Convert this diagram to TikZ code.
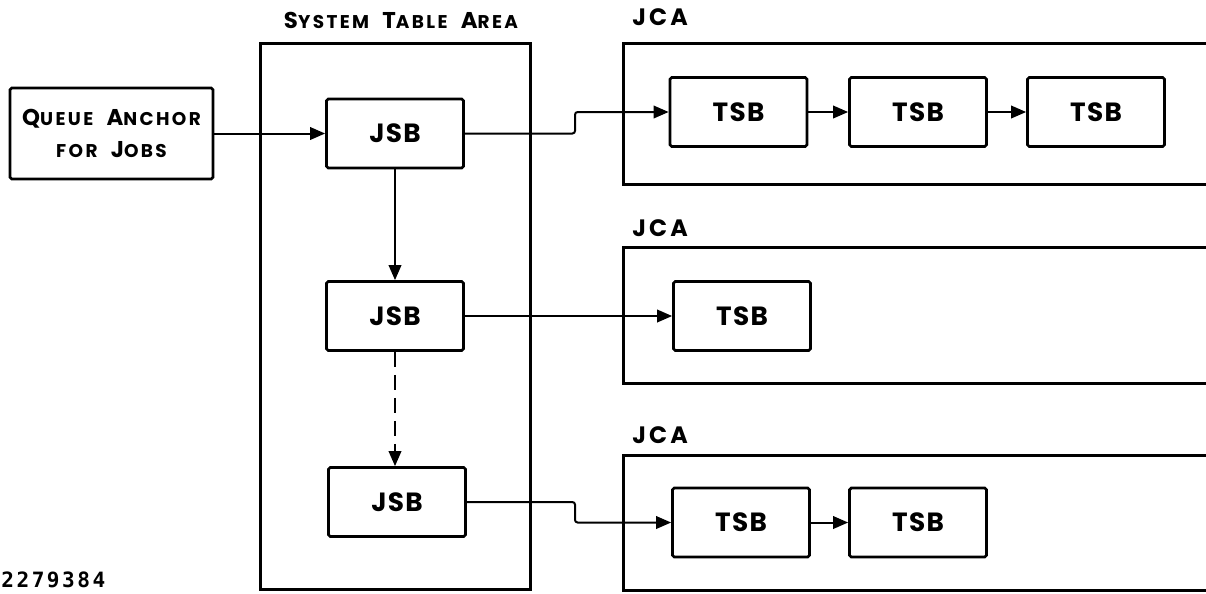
\documentclass[tikz,border=0pt]{standalone}
\usepackage{fontspec}
\setmainfont{Poppins}
\newfontfamily\labelfont{Poppins}[LetterSpace=13, WordSpace=2.2]
\newfontfamily\boxfont{Poppins}[LetterSpace=5]
\newfontfamily\numfont{DejaVu Sans Mono}[LetterSpace=12]
\usetikzlibrary{arrows.meta, positioning}

\newcommand{\capword}[2]{{\fontsize{13}{13}\selectfont #1}{\fontsize{10.5}{13}\selectfont #2}}

\tikzset{
  block/.style={draw, line width=0.55mm, rounded corners=1pt, minimum width=2.74cm,
    minimum height=1.38cm, inner sep=0pt, font=\boxfont\bfseries\fontsize{15}{15}\selectfont},
  area/.style={draw, line width=0.6mm},
  link/.style={line width=0.4mm, rounded corners=1.5pt, -{Triangle[length=3mm, width=2.5mm]}},
  title/.style={anchor=west, inner sep=0pt, font=\labelfont\bfseries},
}

\begin{document}
\begin{tikzpicture}[x=0.02cm, y=-0.02cm]
  \useasboundingbox (0,0) rectangle (1206,593);

  % system table area
  \node[area, minimum width=5.42cm, minimum height=10.94cm] (sta) at (395.5,316.5) {};
  \node[title, anchor=center] (staLabel) at (401,20) {\capword{S}{YSTEM} \capword{T}{ABLE} \capword{A}{REA}};

  % job control areas
  \draw[area] (1212,43)  -- (623,43)  -- (623,184) -- (1212,184);
  \draw[area] (1212,247) -- (623,247) -- (623,383) -- (1212,383);
  \draw[area] (1212,455) -- (623,455) -- (623,590) -- (1212,590);
  \node[title] (jcaA) at (632,17)  {\fontsize{13.5}{13.5}\selectfont JCA};
  \node[title] (jcaB) at (632,228) {\fontsize{13.5}{13.5}\selectfont JCA};
  \node[title] (jcaC) at (632,435) {\fontsize{13.5}{13.5}\selectfont JCA};

  % queue anchor
  \node[block, minimum width=4.06cm, minimum height=1.82cm, align=center,
    font=\labelfont\bfseries, text depth=0pt] (queue) at (111.5,133.5)
    {\capword{Q}{UEUE} \capword{A}{NCHOR}\\[6pt]\capword{}{FOR} \capword{J}{OBS}};

  % job summary blocks
  \node[block] (jsbA) at (395,133.5) {JSB};
  \node[block] (jsbB) at (395,316)   {JSB};
  \node[block] (jsbC) at (397,502)   {JSB};

  % task summary blocks
  \node[block] (tsbA1) at (738.5,112) {TSB};
  \node[block] (tsbA2) at (918,112)   {TSB};
  \node[block] (tsbA3) at (1096,112)  {TSB};
  \node[block] (tsbB1) at (742,316)   {TSB};
  \node[block] (tsbC1) at (741,522.5) {TSB};
  \node[block] (tsbC2) at (918,522.5) {TSB};

  \coordinate (jog) at (575,0);

  \draw[link] (queue.east) -- (jsbA.west);
  \draw[link] (jsbA.south) -- (jsbB.north);
  \draw[link, dash pattern=on 0.3cm off 0.16cm] (jsbB.south) -- (jsbC.north -| jsbB.south);

  \draw[link] (jsbA.east) -- (jsbA.east -| jog) |- (tsbA1.west);
  \draw[link] (tsbA1.east) -- (tsbA2.west);
  \draw[link] (tsbA2.east) -- (tsbA3.west);
  \draw[link] (jsbB.east) -- (tsbB1.west);
  \draw[link] (jsbC.east) -- (jsbC.east -| jog) |- (tsbC1.west);
  \draw[link] (tsbC1.east) -- (tsbC2.west);

  \node[anchor=west, inner sep=0pt, font=\numfont\bfseries\fontsize{12}{12}\selectfont] (figNo) at (1,580) {2279384};
\end{tikzpicture}
\end{document}
